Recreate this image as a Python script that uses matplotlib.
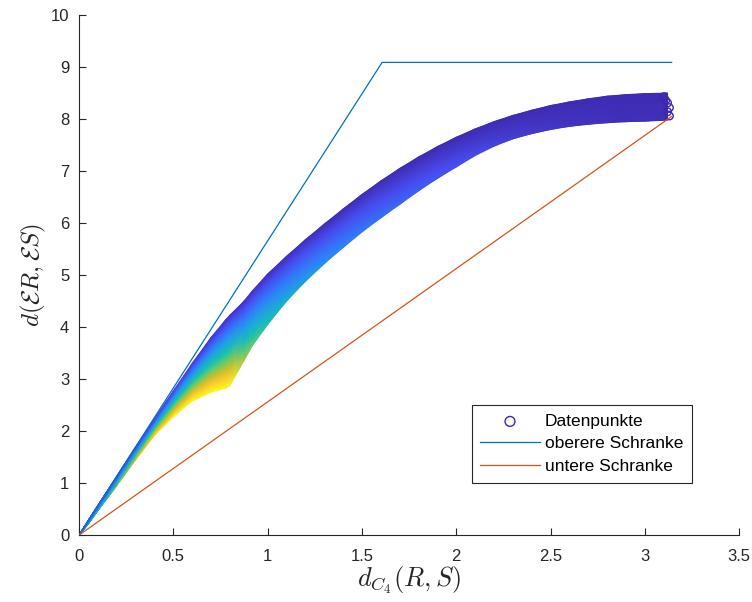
import matplotlib
matplotlib.use("Agg")
import matplotlib.pyplot as plt
from matplotlib.colors import LinearSegmentedColormap
import numpy as np

# parula-like colormap (MATLAB default)
parula_pts = [
    (0.00, (0.2422, 0.1504, 0.6603)),
    (0.125, (0.2813, 0.3006, 0.9414)),
    (0.25, (0.1963, 0.4847, 0.9892)),
    (0.375, (0.1248, 0.6459, 0.8883)),
    (0.50, (0.0964, 0.7500, 0.7120)),
    (0.625, (0.3909, 0.8029, 0.4354)),
    (0.75, (0.8203, 0.7498, 0.1535)),
    (0.875, (0.9892, 0.8136, 0.1885)),
    (1.00, (0.9769, 0.9839, 0.0805)),
]
parula = LinearSegmentedColormap.from_list("parula", parula_pts)

# envelope of the data cloud
band_x = [0.00, 0.05, 0.10, 0.20, 0.30, 0.40, 0.50, 0.60, 0.70, 0.78, 0.80, 0.87, 0.92,
          1.00, 1.10, 1.20, 1.30, 1.40, 1.50, 1.60, 1.70, 1.80, 1.90, 2.00, 2.10,
          2.20, 2.30, 2.40, 2.50, 2.60, 2.70, 2.80, 2.90, 3.00, 3.12]
band_top = [0.00, 0.29, 0.57, 1.13, 1.69, 2.23, 2.77, 3.30, 3.80, 4.15, 4.23, 4.48, 4.70,
            5.02, 5.36, 5.68, 5.98, 6.27, 6.55, 6.81, 7.05, 7.27, 7.47, 7.65, 7.81,
            7.95, 8.07, 8.17, 8.26, 8.33, 8.39, 8.44, 8.47, 8.49, 8.50]
band_bot = [0.00, 0.22, 0.47, 0.95, 1.45, 1.92, 2.28, 2.58, 2.75, 2.83, 2.88, 3.33, 3.65,
            4.05, 4.50, 4.88, 5.22, 5.53, 5.83, 6.10, 6.36, 6.62, 6.86, 7.08, 7.30,
            7.48, 7.62, 7.72, 7.80, 7.86, 7.90, 7.93, 7.95, 7.96, 7.98]
# colour value (0..1 on the colormap) at the upper / lower edge
col_top = [0.15, 0.15, 0.12, 0.12, 0.10, 0.10, 0.10, 0.08, 0.06, 0.05, 0.05, 0.05, 0.05,
           0.04, 0.04, 0.04, 0.03, 0.03, 0.03, 0.03, 0.02, 0.02, 0.02, 0.02, 0.02,
           0.02, 0.02, 0.02, 0.02, 0.02, 0.02, 0.02, 0.02, 0.02, 0.02]
col_bot = [0.45, 0.50, 0.55, 0.70, 0.85, 0.95, 1.00, 1.00, 1.00, 1.00, 1.00, 0.72, 0.62,
           0.52, 0.42, 0.36, 0.32, 0.28, 0.25, 0.22, 0.20, 0.18, 0.16, 0.14, 0.12,
           0.10, 0.08, 0.07, 0.06, 0.05, 0.04, 0.04, 0.03, 0.03, 0.03]

# single points visible at the right end of the cloud
end_x = [3.10, 3.12, 3.13, 3.12, 3.13, 3.11]
end_y = [8.43, 8.31, 8.22, 8.14, 8.06, 8.36]

# bounds
upper_x = [0.0, 1.607, 3.1416]
upper_y = [0.0, 9.09, 9.09]
lower_x = [0.0, 3.1416]
lower_y = [0.0, 8.05]

plt.rcParams['font.family'] = ['Liberation Sans', 'DejaVu Sans']
plt.rcParams['mathtext.fontset'] = 'cm'

fig = plt.figure(figsize=(7.52, 6.02), dpi=100)
ax = fig.add_axes([0.105, 0.111, 0.878, 0.864])

# shade the region between the lower and upper edge of the cloud
bx = np.array(band_x)
bt, bb = np.array(band_top), np.array(band_bot)
ct, cb = np.array(col_top), np.array(col_bot)
t = np.linspace(0, 1, 30)[:, None]
X = np.broadcast_to(bx, (len(t), len(bx)))
Y = bb + t * (bt - bb)
C = cb + t * (ct - cb)
ax.pcolormesh(X, Y, C, cmap=parula, vmin=0, vmax=1, shading='gouraud', zorder=1)

ax.scatter(end_x, end_y, s=30, facecolors='none', edgecolors=parula(0.0),
           linewidths=1.0, zorder=2, label='Datenpunkte')
ax.plot(upper_x, upper_y, color='#0072BD', lw=0.9, zorder=3, label='oberere Schranke')
ax.plot(lower_x, lower_y, color='#D95319', lw=0.9, zorder=3, label='untere Schranke')

ax.set_xlim(0, 3.5)
ax.set_ylim(0, 10)
ax.set_xticks([0, 0.5, 1, 1.5, 2, 2.5, 3, 3.5])
ax.set_xticklabels(['0', '0.5', '1', '1.5', '2', '2.5', '3', '3.5'])
ax.set_yticks(range(0, 11))
for s in ['top', 'right']:
    ax.spines[s].set_visible(False)
for s in ['left', 'bottom']:
    ax.spines[s].set_color('#262626')
    ax.spines[s].set_linewidth(0.8)
ax.tick_params(direction='in', length=5, width=0.8, colors='#262626', labelsize=12)
ax.tick_params(axis='x', pad=10)
ax.tick_params(axis='y', pad=7)

ax.set_xlabel(r'$d_{C_4}(R,S)$', fontsize=19, color='#262626', labelpad=0)
ax.set_ylabel(r'$d(\mathcal{E}R,\mathcal{E}S)$', fontsize=18, color='#262626', labelpad=2)

leg = ax.legend(loc='upper left', bbox_to_anchor=(0.595, 0.25), fontsize=12.5,
                fancybox=False, edgecolor='#262626', framealpha=1, markerscale=1.3,
                handlelength=3.4, handletextpad=0.3, borderpad=0.5,
                labelspacing=0.42, borderaxespad=0)
leg.get_frame().set_linewidth(0.8)

fig.savefig('out.png', dpi=100)
